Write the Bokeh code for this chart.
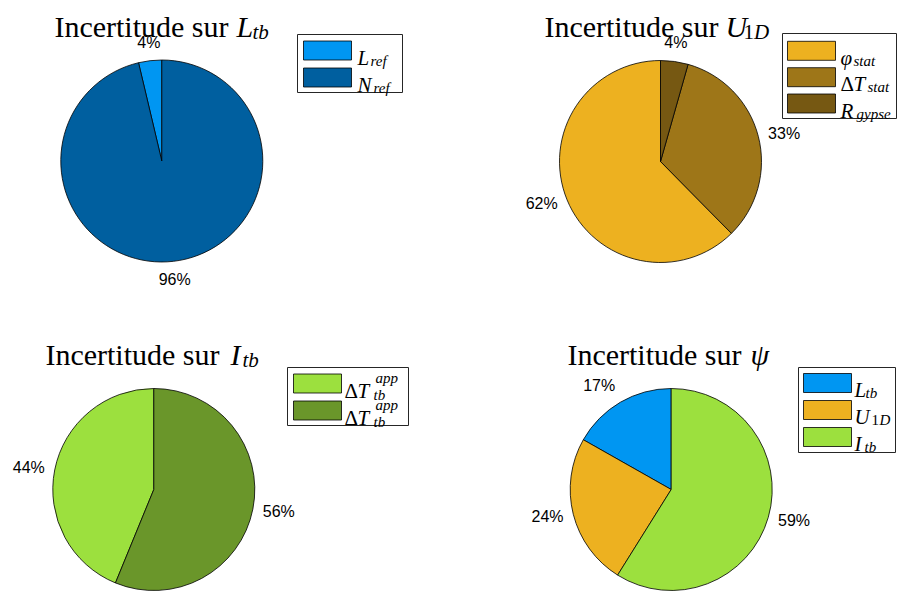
import numpy as np
from bokeh.plotting import figure
from bokeh.models import Range1d, ColumnDataSource
from bokeh.core.properties import value
from bokeh.embed import file_html
from bokeh.resources import INLINE

# ---------------- data ----------------
Ltb_labels = ["L_ref", "N_ref"]
Ltb_values = [3.7, 96.3]
Ltb_colors = ["#0096F2", "#005F9F"]

U1D_labels = ["phi_stat", "DeltaT_stat", "R_gypse"]
U1D_values = [62.4, 33.2, 4.4]
U1D_colors = ["#EDB120", "#9E7618", "#765812"]

Itb_labels = ["DeltaT_tb^app (1)", "DeltaT_tb^app (2)"]
Itb_values = [43.8, 56.2]
Itb_colors = ["#9CE03E", "#6A962A"]

psi_labels = ["L_tb", "U_1D", "I_tb"]
psi_values = [16.8, 24.3, 58.9]
psi_colors = ["#0096F2", "#EDB120", "#9CE03E"]

SERIF = "Liberation Serif"
SANS = "Liberation Sans"

W, H = 897, 591
p = figure(width=W, height=H, x_range=Range1d(0, W), y_range=Range1d(0, H),
           output_backend="svg", toolbar_location=None, min_border=0,
           x_axis_location=None, y_axis_location=None)
p.grid.visible = False
p.outline_line_color = None
p.background_fill_color = "white"
p.border_fill_color = "white"


def Y(yimg):
    return H - yimg


def txt(x, yimg, s, size, style="normal", font=SERIF, align="left", baseline="alphabetic"):
    p.text(x=[x], y=[Y(yimg)], text=[s], text_font=value(font),
           text_font_size=f"{size}px", text_font_style=style,
           text_align=align, text_baseline=baseline, text_color="black")


def pie(cx, cy, r, values, colors):
    v = np.asarray(values, dtype=float)
    frac = v / v.sum()
    ends = np.pi / 2 + 2 * np.pi * np.cumsum(frac)
    starts = ends - 2 * np.pi * frac
    n = len(v)
    src = ColumnDataSource(dict(x=[cx] * n, y=[Y(cy)] * n, start=starts, end=ends, color=colors))
    p.wedge(x="x", y="y", radius=r, start_angle="start", end_angle="end",
            direction="anticlock", fill_color="color", line_color="black",
            line_width=0.8, source=src)
    mids = (starts + ends) / 2
    for f, m in zip(frac, mids):
        c, s = np.cos(m), np.sin(m)
        lx = cx + 1.1 * r * c
        ly = Y(cy) + 1.1 * r * s
        if abs(c) < 0.25:
            ha = "center"
        else:
            ha = "left" if c > 0 else "right"
        if s > 0.7:
            va = "bottom"
        elif s < -0.7:
            va = "top"
        else:
            va = "middle"
        p.text(x=[lx], y=[ly], text=[f"{int(round(f * 100))}%"], text_font=value(SANS),
               text_font_size="16px", text_align=ha, text_baseline=va, text_color="black")


def legend_box(x0, y0, x1, y1):
    p.quad(left=[x0], right=[x1], top=[Y(y0)], bottom=[Y(y1)], fill_color="white",
           line_color="#262626", line_width=1)


def swatch(x0, yc, color):
    p.quad(left=[x0], right=[x0 + 48], top=[Y(yc - 9.5)], bottom=[Y(yc + 9.5)],
           fill_color=color, line_color="black", line_width=0.8)


def title(main_right, math_x, base, pieces):
    txt(main_right, base, "Incertitude sur", TS, align="right")
    for dx_, dy_, s, size, style in pieces:
        txt(math_x + dx_, base + dy_, s, size, style)


R = 101
TS, TSUB = 30, 21   # title sizes
LS, LSUB = 21, 15   # legend sizes
MB, SB = 7, 10      # legend main / subscript baseline offsets from row centre

# ---------- chart A : L_tb ----------
pie(161.3, 160.5, R, Ltb_values, Ltb_colors)
tb = 26
title(228, 236, tb, [(0, 0, "L", TS, "italic"), (16, 5, "tb", TSUB, "italic")])
legend_box(297, 34, 402, 92)
rows = [50, 77]
for yc, col in zip(rows, Ltb_colors):
    swatch(303, yc, col)
txt(357, rows[0] + MB, "L", LS, "italic")
txt(370, rows[0] + SB, "ref", LSUB, "italic")
txt(357, rows[1] + MB, "N", LS, "italic")
txt(373, rows[1] + SB, "ref", LSUB, "italic")

# ---------- chart B : U_1D ----------
pie(660, 161, R, U1D_values, U1D_colors)
title(718, 725, tb, [(0, 0, "U", TS, "italic"), (18, 5, "1", TSUB, "normal"),
                     (28.5, 5, "D", TSUB, "italic")])
bx = -15
legend_box(797 + bx, 33, 911 + bx, 118)
rows = [50.3, 76.7, 103]
for yc, col in zip(rows, U1D_colors):
    swatch(802 + bx, yc, col)
txt(855 + bx, rows[0] + MB, "\u03c6", LS, "italic")
txt(868 + bx, rows[0] + SB, "stat", LSUB, "italic")
txt(855 + bx, rows[1] + MB, "\u0394", LS)
txt(868 + bx, rows[1] + MB, "T", LS, "italic")
txt(882 + bx, rows[1] + SB, "stat", LSUB, "italic")
txt(855 + bx, rows[2] + MB, "R", LS, "italic")
txt(871 + bx, rows[2] + SB, "gypse", LSUB, "italic")

# ---------- chart C : I_tb ----------
dy = -16
pie(153.3, 505 + dy, R, Itb_values, Itb_colors)
bb = 370 + dy
title(219, 230, bb, [(0, 0, "I", TS, "italic"), (12, 5, "tb", TSUB, "italic")])
legend_box(287, 383 + dy, 408, 441 + dy)
rows = [399 + dy, 426 + dy]
for yc, col in zip(rows, Itb_colors):
    swatch(293, yc, col)
    txt(344, yc + MB, "\u0394", LS)
    txt(357, yc + MB, "T", LS, "italic")
    txt(375, yc - 6, "app", LSUB, "italic")
    txt(373, yc + 11, "tb", LSUB, "italic")

# ---------- chart D : psi ----------
pie(670.7, 505 + dy, R, psi_values, psi_colors)
title(741, 750, bb, [(0, 0, "\u03c8", TS, "italic")])
dx = -8
legend_box(806 + dx, 383 + dy, 903 + dx, 468 + dy)
rows = [398.5 + dy, 425.5 + dy, 452.5 + dy]
for yc, col in zip(rows, psi_colors):
    swatch(811 + dx, yc, col)
txt(862 + dx, rows[0] + MB, "L", LS, "italic")
txt(873 + dx, rows[0] + SB, "tb", LSUB, "italic")
txt(862 + dx, rows[1] + MB, "U", LS, "italic")
txt(879 + dx, rows[1] + SB, "1", LSUB)
txt(887 + dx, rows[1] + SB, "D", LSUB, "italic")
txt(862 + dx, rows[2] + MB, "I", LS, "italic")
txt(872 + dx, rows[2] + SB, "tb", LSUB, "italic")

open("out.html", "w").write(file_html(p, INLINE))
